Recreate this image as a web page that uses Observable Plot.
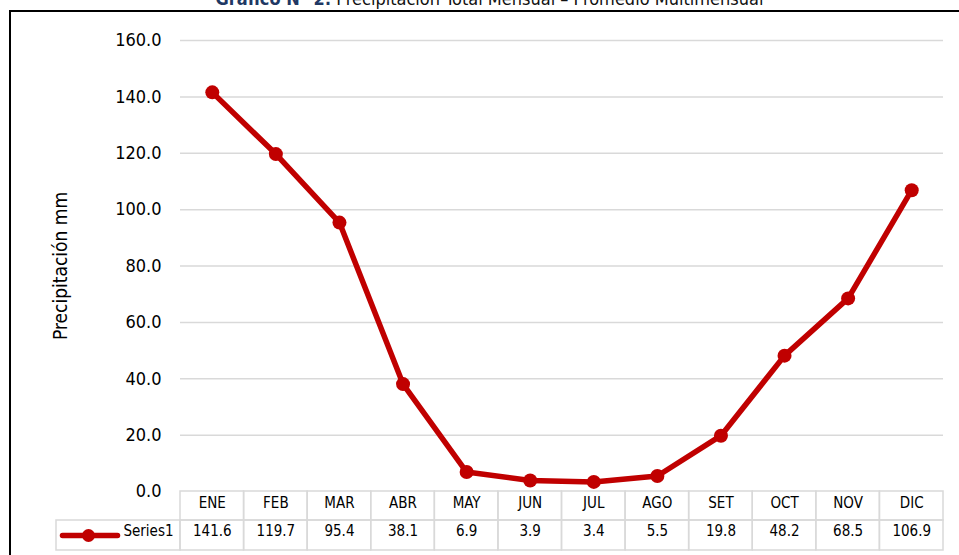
<!DOCTYPE html>
<html>
<head>
<meta charset="utf-8">
<script src="https://cdn.jsdelivr.net/npm/d3@7"></script>
<script src="https://cdn.jsdelivr.net/npm/@observablehq/plot@0.6"></script>
<style>
  html, body { margin: 0; padding: 0; background: #fff; overflow: hidden; }
  #wrap { position: relative; width: 959px; height: 555px; overflow: hidden; }
  #frame { position: absolute; left: 9px; top: 10px; width: 1000px; height: 600px;
           border-left: 2px solid #000; border-top: 2px solid #000; box-sizing: border-box; }
  #title { position: absolute; left: 10px; top: -10px; width: 959px; text-align: center;
           font-family: "Liberation Sans Narrow", "Arial Narrow", "DejaVu Sans Condensed", sans-serif;
           font-size: 18px; line-height: 18px; color: #111; white-space: nowrap; }
  #title b { color: #1F3864; }
  #chart { position: absolute; left: 0; top: 0; }
</style>
</head>
<body>
<div id="wrap">
  <div id="title"><b>Gráfico N° 2:</b> Precipitación Total Mensual – Promedio Multimensual</div>
  <div id="frame"></div>
  <div id="chart"></div>
</div>
<script>
const months = ["ENE","FEB","MAR","ABR","MAY","JUN","JUL","AGO","SET","OCT","NOV","DIC"];
const values = [141.6,119.7,95.4,38.1,6.9,3.9,3.4,5.5,19.8,48.2,68.5,106.9];
const yTicks = [0,20,40,60,80,100,120,140,160];
const seriesName = "Series1";
const yLabel = "Precipitación mm";

const data = months.map((m, i) => ({month: m, i, value: values[i]}));

const W = 959, H = 555;
const mLeft = 180, mRight = 16, mTop = 40, mBottom = 64;
const plotH = H - mTop - mBottom;
const plotW = W - mLeft - mRight;
const k = 160 / plotH;            // data units per pixel (y)
const kx = 12 / plotW;            // data units per pixel (x)
const headerH = 29, rowH = 30;
const legendLeft = -0.5 - 124 * kx;

const red = "#C00000";
const grid = "#d9d9d9";
const font = '"Liberation Sans Narrow", "Arial Narrow", "DejaVu Sans Condensed", sans-serif';

const chart = Plot.plot({
  width: W, height: H,
  marginLeft: mLeft, marginRight: mRight, marginTop: mTop, marginBottom: mBottom,
  style: {fontFamily: font, color: "#000", background: "transparent", overflow: "visible"},
  x: {domain: [-0.5, 11.5], axis: null},
  y: {domain: [0, 160], axis: null},
  marks: [
    Plot.ruleY(yTicks.filter(d => d > 0), {stroke: grid, strokeWidth: 1.5, strokeOpacity: 1}),
    Plot.axisY({ticks: yTicks, tickSize: 0, tickPadding: 19, fontSize: 18,
                tickFormat: d => d.toFixed(1), label: null}),
    Plot.text([yLabel], {frameAnchor: "left", dx: -120, rotate: -90, textAnchor: "middle",
                         fontSize: 19, fill: "#000"}),
    // table: header cells
    Plot.rect(data, {x1: d => d.i - 0.5, x2: d => d.i + 0.5, y1: 0, y2: -headerH * k,
                     fill: "none", stroke: grid, strokeWidth: 1.5}),
    // table: value cells
    Plot.rect(data, {x1: d => d.i - 0.5, x2: d => d.i + 0.5, y1: -headerH * k, y2: -(headerH + rowH) * k,
                     fill: "none", stroke: grid, strokeWidth: 1.5}),
    // legend cell
    Plot.rect([seriesName], {x1: legendLeft, x2: -0.5, y1: -headerH * k, y2: -(headerH + rowH) * k,
                     fill: "none", stroke: grid, strokeWidth: 1.5}),
    Plot.text(data, {x: "i", text: "month", frameAnchor: "bottom", dy: 16, fontSize: 15, fill: "#000"}),
    Plot.text(data, {x: "i", text: d => d.value.toFixed(1), frameAnchor: "bottom", dy: 44, fontSize: 15, fill: "#000"}),
    Plot.text([seriesName], {x: -0.5, frameAnchor: "bottom", dx: -7, dy: 44, textAnchor: "end", fontSize: 15, fill: "#000"}),
    // legend symbol
    Plot.line([-0.5 - 118 * kx, -0.5 - 63 * kx], {x: d => d, y: -(headerH + rowH / 2) * k,
                     stroke: red, strokeWidth: 5.5}),
    Plot.dot([-0.5 - 92 * kx], {x: d => d, y: -(headerH + rowH / 2) * k, r: 6.5, fill: red}),
    // series
    Plot.line(data, {x: "i", y: "value", stroke: red, strokeWidth: 5.5, strokeLinejoin: "round"}),
    Plot.dot(data, {x: "i", y: "value", r: 7, fill: red})
  ]
});
document.getElementById("chart").appendChild(chart);
</script>
</body>
</html>
